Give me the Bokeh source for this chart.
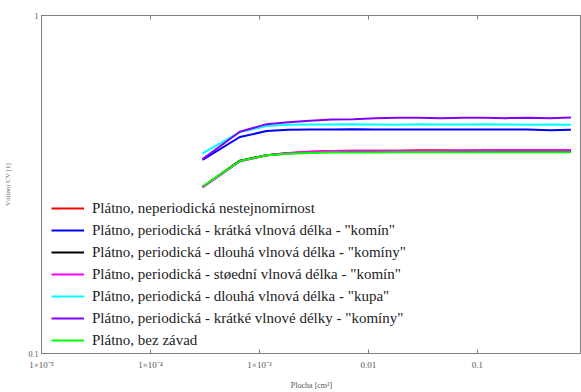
from bokeh.plotting import figure
from bokeh.models import Range1d, FixedTicker, Legend, LegendItem, LogAxis
from bokeh.embed import file_html
from bokeh.resources import INLINE

# ---- data ----
x_area = [3.0e-4, 6.6e-4, 1.16e-3, 1.83e-3, 2.9e-3, 4.6e-3, 7.3e-3, 0.0116, 0.0183,
          0.029, 0.046, 0.073, 0.116, 0.183, 0.29, 0.46, 0.72]

y_red = [0.311, 0.371, 0.386, 0.391, 0.395, 0.397, 0.398, 0.398, 0.398,
         0.399, 0.399, 0.398, 0.399, 0.399, 0.399, 0.399, 0.399]
y_blue = [0.374, 0.437, 0.455, 0.459, 0.460, 0.460, 0.461, 0.460, 0.460,
          0.460, 0.460, 0.460, 0.460, 0.460, 0.460, 0.458, 0.459]
y_black = [0.311, 0.372, 0.386, 0.391, 0.394, 0.395, 0.396, 0.396, 0.396,
           0.396, 0.396, 0.396, 0.396, 0.396, 0.396, 0.396, 0.396]
y_magenta = [0.310, 0.370, 0.386, 0.392, 0.395, 0.397, 0.398, 0.398, 0.398,
             0.398, 0.398, 0.399, 0.399, 0.400, 0.400, 0.400, 0.400]
y_cyan = [0.391, 0.452, 0.471, 0.475, 0.476, 0.476, 0.477, 0.476, 0.475,
          0.477, 0.476, 0.476, 0.477, 0.476, 0.475, 0.476, 0.475]
y_purple = [0.376, 0.453, 0.477, 0.483, 0.488, 0.492, 0.493, 0.497, 0.498,
            0.498, 0.497, 0.498, 0.498, 0.497, 0.498, 0.497, 0.499]
y_green = [0.312, 0.371, 0.386, 0.390, 0.392, 0.393, 0.393, 0.393, 0.394,
           0.394, 0.394, 0.394, 0.394, 0.394, 0.394, 0.394, 0.394]

series_names = [
    "Plátno, neperiodická nestejnomirnost",
    "Plátno, periodická - krátká vlnová délka - \"komín\"",
    "Plátno, periodická - dlouhá vlnová délka - \"komíny\"",
    "Plátno, periodická - støední vlnová délka - \"komín\"",
    "Plátno, periodická - dlouhá vlnová délka - \"kupa\"",
    "Plátno, periodická - krátké vlnové délky - \"komíny\"",
    "Plátno, bez závad",
]
series_values = [y_red, y_blue, y_black, y_magenta, y_cyan, y_purple, y_green]
series_colors = ["#ff0000", "#0000ff", "#000000", "#ff00ff", "#00ffff", "#8000ff", "#00ff00"]

x_ticks = [1e-5, 1e-4, 1e-3, 0.01, 0.1]
x_tick_labels = ["1×10⁻⁵", "1×10⁻⁴", "1×10⁻³", "0.01", "0.1"]
y_ticks = [0.1, 1.0]
y_tick_labels = ["0.1", "1"]

x_title = "Plocha [cm²]"
y_title = "Vnitøní CV [1]"

# ---- figure ----
FONT = "Liberation Serif"
AX = "#808080"

p = figure(width=581, height=392, x_axis_type="log", y_axis_type="log",
           x_range=Range1d(1e-5, 0.9), y_range=Range1d(0.1, 1.0),
           output_backend="svg", toolbar_location=None,
           min_border_left=40, min_border_right=0, min_border_top=15, min_border_bottom=38)
p.xgrid.visible = False
p.ygrid.visible = False
p.outline_line_color = AX
p.background_fill_color = "white"
p.border_fill_color = "white"

xa = p.xaxis[0]
xa.ticker = FixedTicker(ticks=x_ticks)
xa.major_label_overrides = dict(zip(x_ticks, x_tick_labels))
xa.minor_tick_line_color = None
xa.major_tick_in = 4
xa.major_tick_out = 0
xa.major_tick_line_color = AX
xa.axis_line_color = AX
xa.major_label_text_font = FONT
xa.major_label_text_font_size = "9px"
xa.major_label_text_color = "#555555"
xa.major_label_standoff = 6
xa.axis_label = x_title
xa.axis_label_text_font = FONT
xa.axis_label_text_font_size = "8px"
xa.axis_label_text_font_style = "normal"
xa.axis_label_text_color = "#555555"
xa.axis_label_standoff = 8

ya = p.yaxis[0]
ya.ticker = FixedTicker(ticks=y_ticks)
ya.major_label_overrides = dict(zip(y_ticks, y_tick_labels))
ya.minor_tick_line_color = None
ya.major_tick_in = 0
ya.major_tick_out = 0
ya.axis_line_color = AX
ya.major_label_text_font = FONT
ya.major_label_text_font_size = "8px"
ya.major_label_text_color = "#555555"
ya.major_label_standoff = 3
ya.axis_label = y_title
ya.axis_label_text_font = FONT
ya.axis_label_text_font_size = "7px"
ya.axis_label_text_font_style = "normal"
ya.axis_label_text_color = "#666666"
ya.axis_label_standoff = 14

top = LogAxis(ticker=FixedTicker(ticks=x_ticks), axis_line_color=AX,
              major_tick_in=4, major_tick_out=0, major_tick_line_color=AX,
              minor_tick_line_color=None, major_label_text_color=None,
              major_label_text_font_size="4px", major_label_standoff=0)
p.add_layout(top, "above")

renderers = []
for vals, col in zip(series_values, series_colors):
    r = p.line(x_area, vals, line_color=col, line_width=2)
    renderers.append(r)

items = [LegendItem(label=n, renderers=[r]) for n, r in zip(series_names, renderers)]
legend = Legend(items=items, location=(7, 0), margin=0, padding=3,
                glyph_width=33, glyph_height=20, label_height=20, spacing=2,
                label_standoff=8, border_line_alpha=0, background_fill_alpha=0,
                label_text_font=FONT, label_text_font_size="15px",
                label_text_color="#222222")
p.add_layout(legend)

open("out.html", "w").write(file_html(p, INLINE))
